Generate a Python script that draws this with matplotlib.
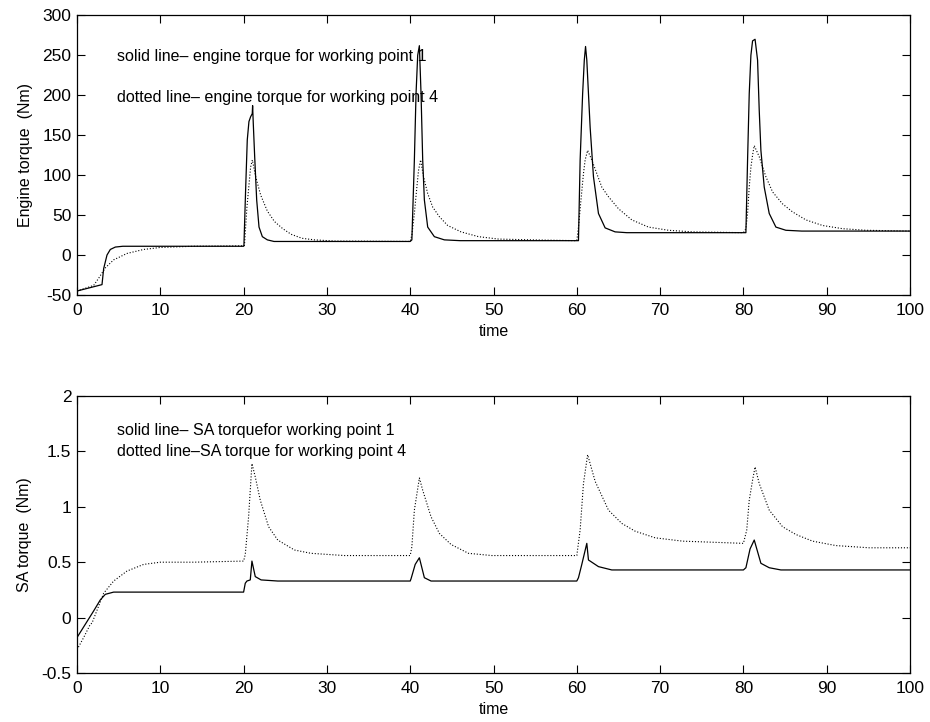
import numpy as np
import matplotlib
matplotlib.use("Agg")
from matplotlib import pyplot as plt

# ---- engine torque, working point 1 (solid) ----
t_eng_wp1 = [0, 3.0, 3.2, 3.6, 4.0, 4.6, 5.5, 20.0,
             20.04, 20.24, 20.44, 20.64, 20.84, 21.04, 21.08, 21.16, 21.33, 21.57, 21.85, 22.25, 22.85, 23.65, 25.0, 40.0,
             40.2, 40.5, 40.7, 40.9, 41.1, 41.3, 41.5, 41.7, 42.1, 42.9, 44.1, 46.0, 60.0,
             60.2, 60.4, 60.7, 60.9, 61.05, 61.2, 61.6, 62.0, 62.6, 63.4, 64.6, 66.0, 80.0,
             80.3, 80.5, 80.7, 80.9, 81.1, 81.4, 81.7, 81.9, 82.1, 82.5, 83.1, 83.9, 85.1, 87.0, 100.0]
q_eng_wp1 = [-45, -37, -17, 0, 7, 10, 11, 11,
             12.5, 81, 144, 167, 173, 177, 187, 165, 123, 69, 35, 23, 19, 17, 17, 17,
             19, 119, 202, 250, 262, 202, 119, 69, 35, 23, 19, 18, 18,
             18, 119, 202, 244, 261, 244, 160, 98, 52, 34, 29, 28, 28,
             28, 119, 202, 250, 268, 270, 244, 181, 131, 85, 52, 35, 31, 30, 30]

# ---- engine torque, working point 4 (dotted) ----
t_eng_wp4 = [0, 2.0, 2.6, 3.4, 4.4, 6.0, 8.0, 10.0, 14.0, 20.0,
             20.1, 20.4, 20.84, 21.05, 21.45, 22.05, 22.85, 23.7, 24.7, 25.7, 27.0, 28.5, 31.0, 40.0,
             40.2, 40.5, 40.8, 41.0, 41.25, 41.6, 42.1, 42.7, 43.5, 44.5, 46.1, 48.2, 50.6, 54.6, 60.0,
             60.2, 60.5, 60.8, 61.0, 61.3, 61.8, 62.4, 63.0, 63.8, 65.0, 66.6, 68.6, 71.0, 73.9, 80.0,
             80.3, 80.5, 80.7, 80.9, 81.1, 81.3, 81.9, 82.7, 83.5, 84.7, 85.9, 87.5, 89.5, 91.9, 94.7, 100.0]
q_eng_wp4 = [-45, -38, -29, -16, -6, 2, 7, 9.5, 11, 11.5,
             12, 60, 110, 119, 98, 75, 55, 42, 33, 26, 21, 19, 17.5, 17,
             25, 52, 85, 106, 119, 98, 77, 60, 48, 37, 29, 23, 20, 19, 18,
             35, 69, 102, 119, 131, 119, 102, 85, 73, 58, 44, 35, 31, 29, 28,
             33, 52, 85, 110, 125, 137, 123, 98, 79, 64, 54, 44, 37, 33, 31, 30]

# ---- SA torque, working point 1 (solid) ----
t_sa_wp1 = [0, 2.0, 2.8, 3.4, 4.4, 6.0, 20.0,
            20.2, 20.4, 20.8, 21.0, 21.4, 22.1, 24.1, 40.0,
            40.1, 40.6, 41.1, 41.7, 42.5, 44.0, 60.0,
            60.2, 60.6, 61.2, 61.4, 62.6, 64.2, 66.0, 80.0,
            80.3, 80.8, 81.3, 82.1, 83.1, 84.5, 100.0]
q_sa_wp1 = [-0.18, 0.06, 0.16, 0.21, 0.23, 0.23, 0.23,
            0.31, 0.33, 0.34, 0.51, 0.37, 0.34, 0.33, 0.33,
            0.35, 0.48, 0.54, 0.36, 0.33, 0.33, 0.33,
            0.36, 0.48, 0.67, 0.52, 0.46, 0.43, 0.43, 0.43,
            0.45, 0.62, 0.70, 0.49, 0.45, 0.43, 0.43]

# ---- SA torque, working point 4 (dotted) ----
t_sa_wp4 = [0, 0.8, 1.6, 1.8, 3.2, 4.4, 6.0, 8.0, 10.0, 14.0, 20.0,
            20.2, 20.6, 21.0, 21.4, 22.0, 23.0, 24.1, 26.1, 28.1, 32.1, 40.0,
            40.2, 40.5, 41.1, 41.5, 42.5, 43.5, 44.9, 47.0, 49.8, 60.0,
            60.4, 60.8, 61.3, 62.2, 63.8, 65.4, 67.0, 69.4, 72.7, 80.0,
            80.4, 80.7, 81.1, 81.4, 81.9, 83.1, 84.7, 86.3, 88.3, 91.1, 95.1, 100.0]
q_sa_wp4 = [-0.29, -0.18, -0.06, -0.05, 0.22, 0.33, 0.42, 0.48, 0.50, 0.50, 0.51,
            0.57, 0.91, 1.39, 1.27, 1.06, 0.82, 0.70, 0.61, 0.58, 0.56, 0.56,
            0.64, 0.97, 1.26, 1.15, 0.91, 0.76, 0.66, 0.58, 0.56, 0.56,
            0.79, 1.21, 1.47, 1.23, 0.97, 0.85, 0.78, 0.72, 0.69, 0.67,
            0.79, 1.06, 1.24, 1.36, 1.21, 0.97, 0.82, 0.75, 0.69, 0.65, 0.63, 0.63]

plt.rcParams['font.family'] = ['Liberation Sans', 'DejaVu Sans']
plt.rcParams['font.size'] = 11.5
plt.rcParams['axes.unicode_minus'] = False

fig = plt.figure(figsize=(9.3, 7.22), dpi=100)
ax1 = fig.add_axes([0.0828, 0.5914, 0.8957, 0.3874])
ax2 = fig.add_axes([0.0828, 0.0679, 0.8957, 0.3836])

for ax in (ax1, ax2):
    ax.set_xlim(0, 100)
    ax.set_xticks(np.arange(0, 101, 10))
    ax.tick_params(direction='in', length=5.5, width=0.8, top=True, right=True, labelsize=12.5)
    ax.tick_params(axis='x', pad=6)
    ax.tick_params(axis='y', pad=4)
    for s in ax.spines.values():
        s.set_linewidth(0.9)
    ax.set_xlabel('time', labelpad=4)

ax1.plot(t_eng_wp1, q_eng_wp1, color='k', lw=0.9)
ax1.plot(t_eng_wp4, q_eng_wp4, color='k', lw=0.8, ls=':')
ax1.set_ylim(-50, 300)
ax1.set_yticks(np.arange(-50, 301, 50))
ax1.set_ylabel('Engine torque  (Nm)', labelpad=7)
ax1.text(4.8, 249, 'solid line\u2013 engine torque for working point 1', va='center')
ax1.text(4.8, 197.5, 'dotted line\u2013 engine torque for working point 4', va='center')

ax2.plot(t_sa_wp1, q_sa_wp1, color='k', lw=0.9)
ax2.plot(t_sa_wp4, q_sa_wp4, color='k', lw=0.8, ls=':')
ax2.set_ylim(-0.5, 2)
ax2.set_yticks([-0.5, 0, 0.5, 1, 1.5, 2])
ax2.set_yticklabels(['-0.5', '0', '0.5', '1', '1.5', '2'])
ax2.set_ylabel('SA torque  (Nm)', labelpad=7)
ax2.text(4.8, 1.69, 'solid line\u2013 SA torquefor working point 1', va='center')
ax2.text(4.8, 1.50, 'dotted line\u2013SA torque for working point 4', va='center')

fig.savefig('out.png', dpi=100)
